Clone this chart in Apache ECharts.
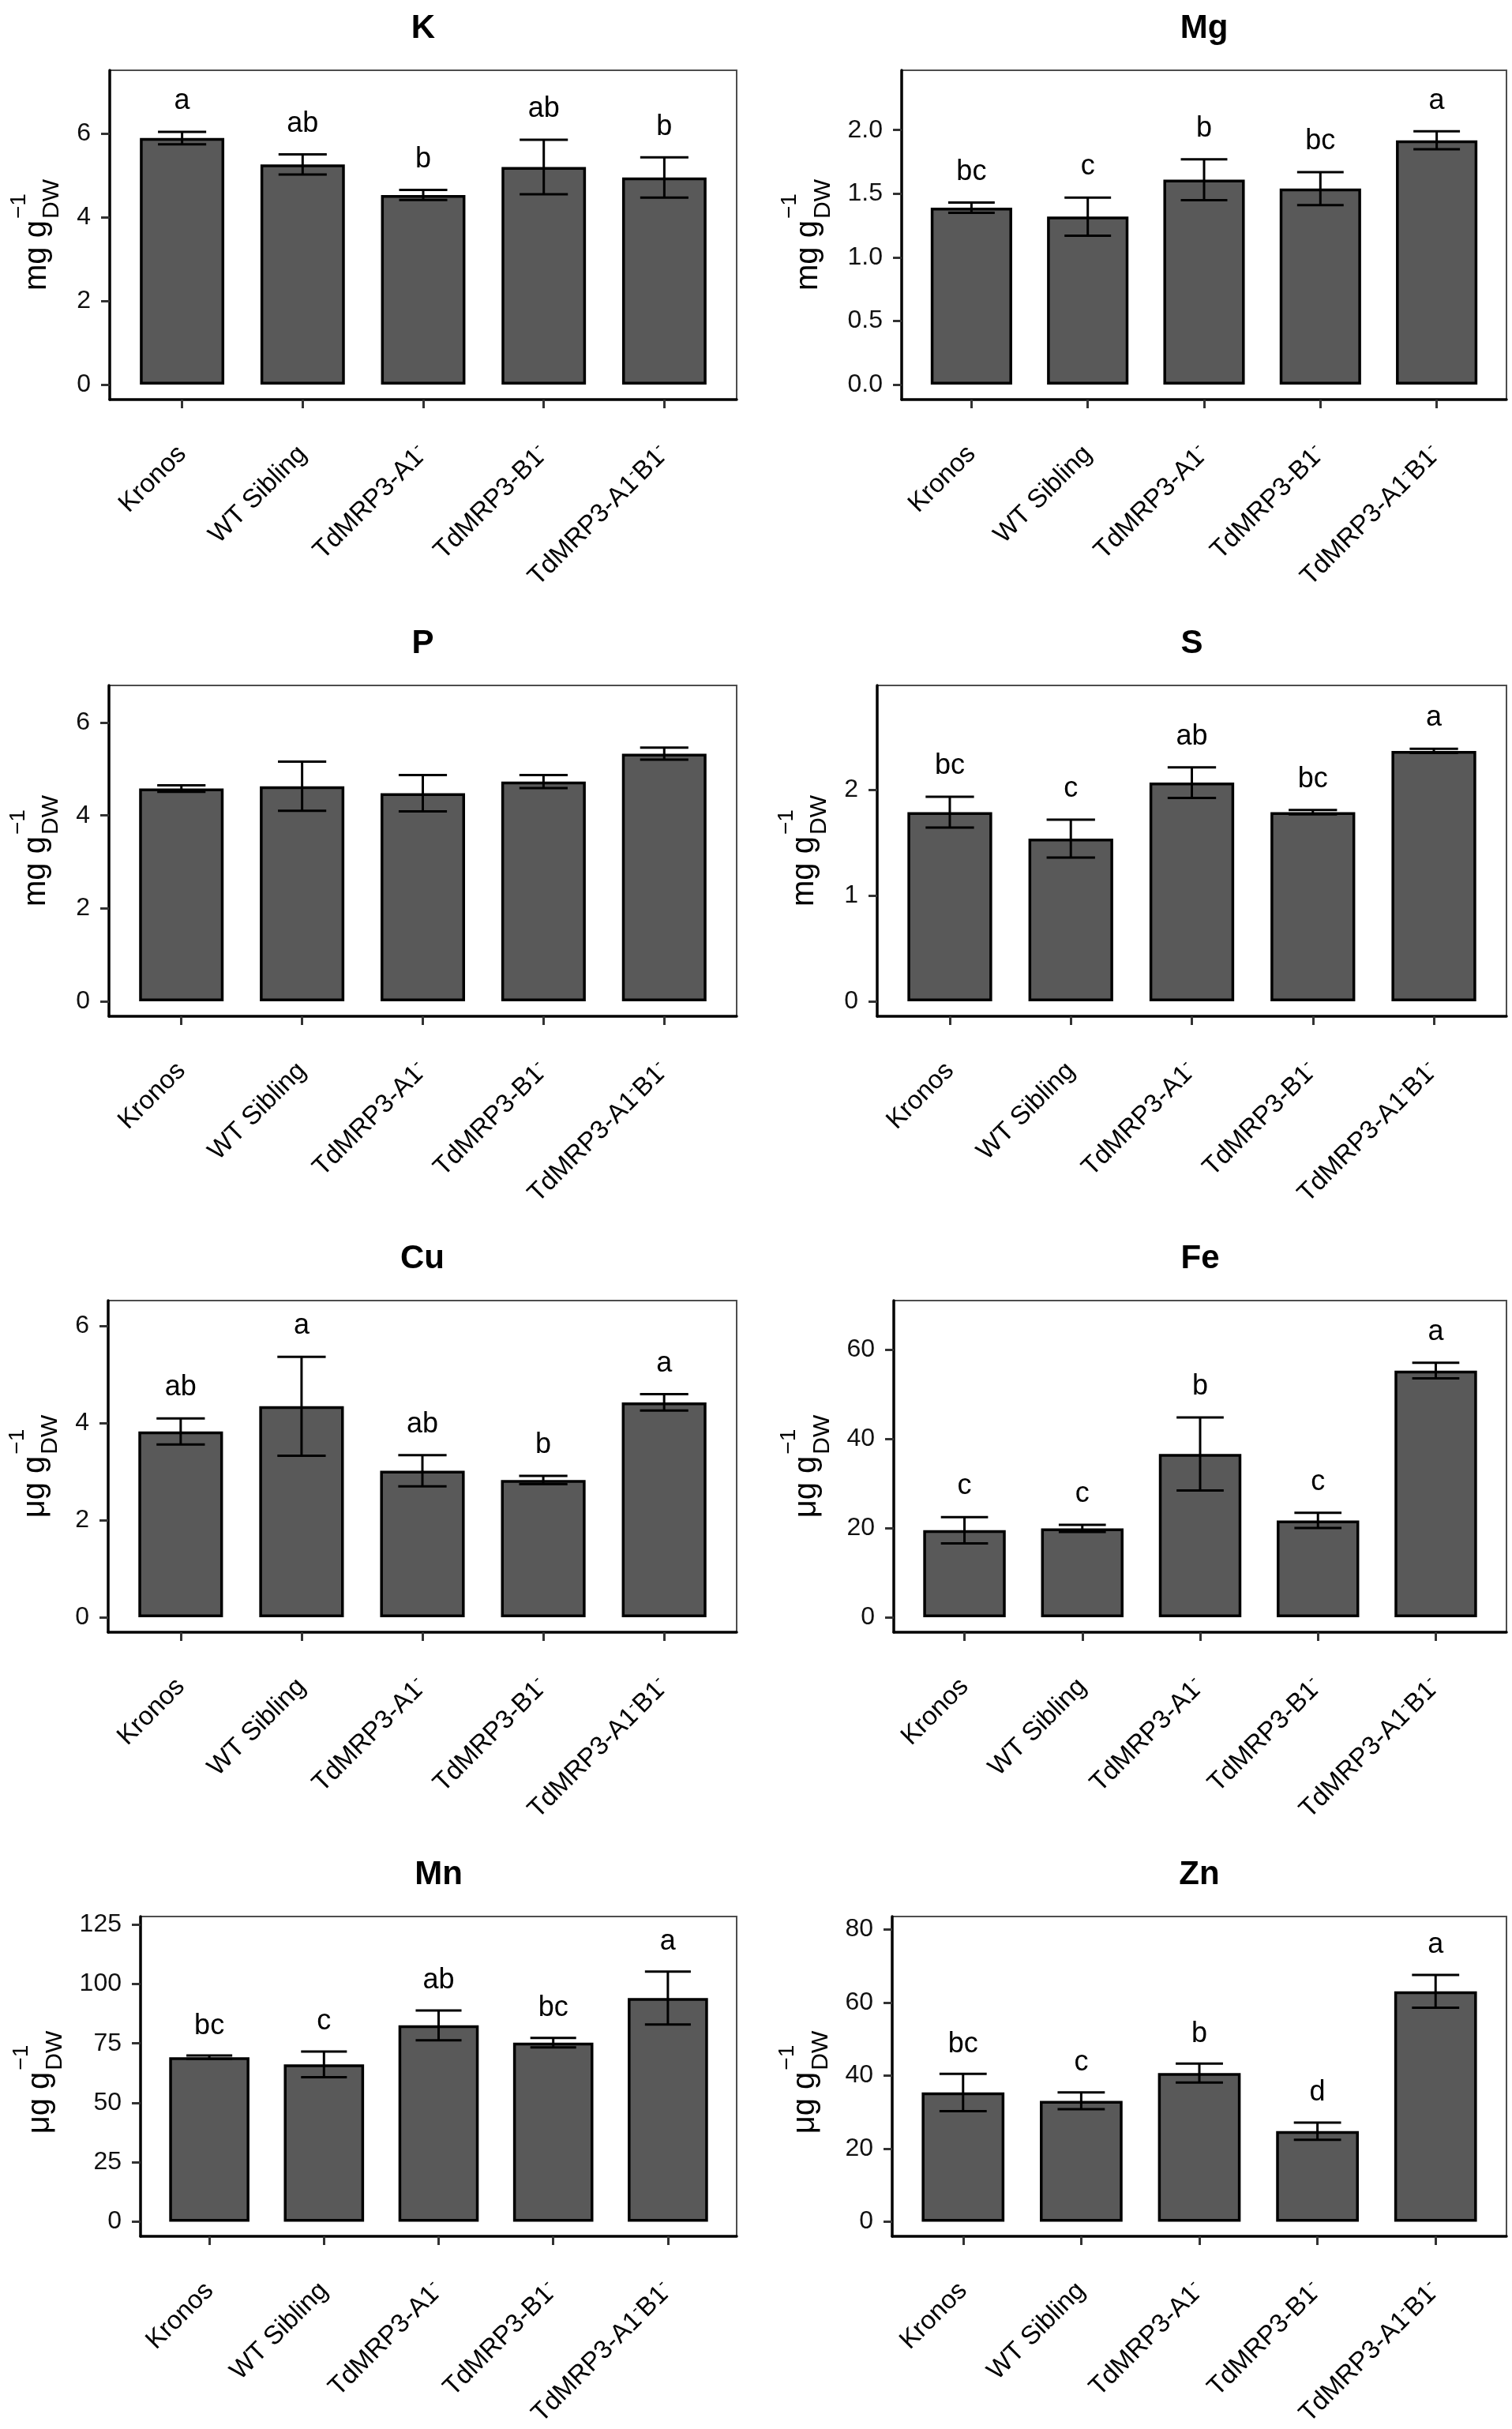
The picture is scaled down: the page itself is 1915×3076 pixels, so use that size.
<!DOCTYPE html>
<html>
<head>
<meta charset="utf-8">
<script src="https://cdn.jsdelivr.net/npm/echarts@6/dist/echarts.min.js"></script>
<style>
  html, body { margin: 0; padding: 0; background: #fff; }
  #chart { width: 1915px; height: 3076px; }
</style>
</head>
<body>
<div id="chart"></div>
<script>
// genotypes on the x axis, ⁻ marks a superscript minus
const categories = ['Kronos', 'WT Sibling', 'TdMRP3-A1⁻', 'TdMRP3-B1⁻', 'TdMRP3-A1⁻B1⁻'];

const elements = ['K', 'Mg', 'P', 'S', 'Cu', 'Fe', 'Mn', 'Zn'];
const units = ['mg', 'mg', 'mg', 'mg', 'μg', 'μg', 'μg', 'μg'];

// means, standard errors and letters of each element
const kMean = [5.89, 5.26, 4.53, 5.20, 4.95];
const kSe = [0.15, 0.24, 0.12, 0.65, 0.48];
const kLetters = ['a', 'ab', 'b', 'ab', 'b'];

const mgMean = [1.39, 1.32, 1.61, 1.54, 1.92];
const mgSe = [0.04, 0.15, 0.16, 0.13, 0.07];
const mgLetters = ['bc', 'c', 'b', 'bc', 'a'];

const pMean = [4.58, 4.63, 4.48, 4.73, 5.33];
const pSe = [0.07, 0.53, 0.39, 0.14, 0.13];
const pLetters = [];

const sMean = [1.79, 1.54, 2.07, 1.79, 2.37];
const sSe = [0.145, 0.18, 0.145, 0.02, 0.02];
const sLetters = ['bc', 'c', 'ab', 'bc', 'a'];

const cuMean = [3.83, 4.35, 3.02, 2.83, 4.43];
const cuSe = [0.27, 1.02, 0.32, 0.085, 0.17];
const cuLetters = ['ab', 'a', 'ab', 'b', 'a'];

const feMean = [19.5, 19.9, 36.6, 21.7, 55.3];
const feSe = [2.95, 0.8, 8.2, 1.7, 1.75];
const feLetters = ['c', 'c', 'b', 'c', 'a'];

const mnMean = [69.2, 66.2, 82.6, 75.3, 94.1];
const mnSe = [0.7, 5.4, 6.3, 2.0, 11.1];
const mnLetters = ['bc', 'c', 'ab', 'bc', 'a'];

const znMean = [35.4, 33.1, 40.7, 24.8, 63.1];
const znSe = [5.1, 2.3, 2.6, 2.35, 4.5];
const znLetters = ['bc', 'c', 'b', 'd', 'a'];

// y ticks and their labels
const kTicks = [0, 2, 4, 6];
const mgTicks = [0, 0.5, 1, 1.5, 2];
const mgTickLabels = ['0.0', '0.5', '1.0', '1.5', '2.0'];
const pTicks = [0, 2, 4, 6];
const sTicks = [0, 1, 2];
const cuTicks = [0, 2, 4, 6];
const feTicks = [0, 20, 40, 60];
const mnTicks = [0, 25, 50, 75, 100, 125];
const znTicks = [0, 20, 40, 60, 80];

// upper end of each y axis
const yTops = [7.51, 2.47, 6.80, 2.99, 6.53, 71.0, 128.4, 83.6];

const FONT = '"Liberation Sans", Arial, Helvetica, sans-serif';

const panels = [
  { mean: kMean, se: kSe, letters: kLetters, ticks: kTicks, tickLabels: kTicks.map(String) },
  { mean: mgMean, se: mgSe, letters: mgLetters, ticks: mgTicks, tickLabels: mgTickLabels },
  { mean: pMean, se: pSe, letters: pLetters, ticks: pTicks, tickLabels: pTicks.map(String) },
  { mean: sMean, se: sSe, letters: sLetters, ticks: sTicks, tickLabels: sTicks.map(String) },
  { mean: cuMean, se: cuSe, letters: cuLetters, ticks: cuTicks, tickLabels: cuTicks.map(String) },
  { mean: feMean, se: feSe, letters: feLetters, ticks: feTicks, tickLabels: feTicks.map(String) },
  { mean: mnMean, se: mnSe, letters: mnLetters, ticks: mnTicks, tickLabels: mnTicks.map(String) },
  { mean: znMean, se: znSe, letters: znLetters, ticks: znTicks, tickLabels: znTicks.map(String) }
];

// plot boxes in px
const boxes = [
  { left: 139, top: 89, width: 794, height: 417 },
  { left: 1142, top: 89, width: 766, height: 417 },
  { left: 138, top: 868, width: 795, height: 419 },
  { left: 1111, top: 868, width: 797, height: 419 },
  { left: 137, top: 1647, width: 796, height: 420 },
  { left: 1132, top: 1647, width: 776, height: 420 },
  { left: 178, top: 2427, width: 755, height: 420 },
  { left: 1130, top: 2427, width: 778, height: 420 }
];

const measure = document.createElement('canvas').getContext('2d');
function textWidth(text, size) {
  measure.font = size + 'px ' + FONT;
  return measure.measureText(text).width;
}

function catLabel(v) {
  const name = categories[v];
  if (name === undefined) return '';
  return name.split('⁻').map((part, k, arr) =>
    (part ? '{n|' + part + '}' : '') + (k < arr.length - 1 ? '{s|-}' : '')
  ).join('');
}

const grid = [], xAxis = [], yAxis = [], series = [], graphic = [];

panels.forEach((p, i) => {
  const b = boxes[i];
  const top = yTops[i];
  grid.push({
    left: b.left, top: b.top, width: b.width, height: b.height,
    show: true, borderColor: '#4d4d4d', borderWidth: 2
  });
  xAxis.push({
    gridIndex: i, type: 'value', min: -0.6, max: 4.6,
    splitLine: { show: false },
    axisLine: { show: true, onZero: false, lineStyle: { color: '#000', width: 3.5 } },
    axisTick: { show: true, customValues: [0, 1, 2, 3, 4], length: 11, lineStyle: { color: '#333', width: 3 } },
    axisLabel: {
      customValues: [0, 1, 2, 3, 4], rotate: 45, margin: 64,
      formatter: catLabel,
      fontSize: 33, fontFamily: FONT, color: '#000',
      rich: {
        n: { fontSize: 33, fontFamily: FONT, color: '#000', lineHeight: 38 },
        s: { fontSize: 20, fontFamily: FONT, color: '#000', verticalAlign: 'top', lineHeight: 38 }
      }
    }
  });
  yAxis.push({
    gridIndex: i, type: 'value', min: -top / 21, max: top,
    splitLine: { show: false },
    axisLine: { show: true, onZero: false, lineStyle: { color: '#000', width: 3.5 } },
    axisTick: { show: true, customValues: p.ticks, length: 11, lineStyle: { color: '#333', width: 3 } },
    axisLabel: {
      customValues: p.ticks, margin: 24,
      formatter: v => p.tickLabels[p.ticks.indexOf(v)],
      fontSize: 32, fontFamily: FONT, color: '#111'
    }
  });

  series.push({
    type: 'bar', xAxisIndex: i, yAxisIndex: i,
    data: p.mean.map((m, j) => [j, m]),
    barWidth: 0.7 * b.width / 5.2,
    itemStyle: { color: '#595959', borderColor: '#000', borderWidth: 3.5 },
    silent: true
  });

  series.push({
    type: 'custom', xAxisIndex: i, yAxisIndex: i,
    data: p.mean.map((m, j) => [j, m - p.se[j], m + p.se[j]]),
    encode: { x: 0, y: [1, 2] },
    z: 5, silent: true,
    renderItem: (params, api) => {
      const x = api.value(0);
      const lo = api.coord([x, api.value(1)]);
      const hi = api.coord([x, api.value(2)]);
      const half = api.size([0.2, 0])[0];
      const st = { stroke: '#000', lineWidth: 3 };
      return {
        type: 'group',
        children: [
          { type: 'line', shape: { x1: lo[0], y1: lo[1], x2: hi[0], y2: hi[1] }, style: st },
          { type: 'line', shape: { x1: hi[0] - half, y1: hi[1], x2: hi[0] + half, y2: hi[1] }, style: st },
          { type: 'line', shape: { x1: lo[0] - half, y1: lo[1], x2: lo[0] + half, y2: lo[1] }, style: st }
        ]
      };
    }
  });

  if (p.letters.length) {
    series.push({
      type: 'custom', xAxisIndex: i, yAxisIndex: i,
      data: p.letters.map((l, j) => [j, p.mean[j] + p.se[j] + 0.097 * top]),
      encode: { x: 0, y: 1 },
      z: 6, silent: true,
      renderItem: (params, api) => {
        const pt = api.coord([api.value(0), api.value(1)]);
        return {
          type: 'text', x: pt[0], y: pt[1],
          style: {
            text: p.letters[params.dataIndex], fill: '#000',
            fontSize: 36, fontFamily: FONT, align: 'center', verticalAlign: 'middle'
          }
        };
      }
    });
  }

  // panel title
  graphic.push({
    type: 'text', x: b.left + b.width / 2, y: b.top - 53,
    style: {
      text: elements[i], fill: '#000', fontSize: 42, fontWeight: 'bold',
      fontFamily: FONT, align: 'center', verticalAlign: 'middle'
    }
  });

  // y axis title: unit g with DW subscript and -1 superscript
  const labelW = Math.max(...p.tickLabels.map(t => textWidth(t, 32)));
  const labelLeft = b.left - 24 - labelW;
  const main = units[i] + ' g';
  const wMain = textWidth(main, 40);
  const wSub = textWidth('DW', 30);
  const wSup = textWidth('−1', 28);
  const W = wMain + 2 + Math.max(wSub, wSup);
  graphic.push({
    type: 'group', x: labelLeft - 50, y: b.top + b.height / 2, rotation: Math.PI / 2,
    children: [
      { type: 'text', x: -W / 2, y: 0,
        style: { text: main, fill: '#000', fontSize: 40, fontFamily: FONT, align: 'left', verticalAlign: 'middle' } },
      { type: 'text', x: -W / 2 + wMain + 2, y: 19,
        style: { text: 'DW', fill: '#000', fontSize: 30, fontFamily: FONT, align: 'left', verticalAlign: 'middle' } },
      { type: 'text', x: -W / 2 + wMain + 2, y: -23,
        style: { text: '−1', fill: '#000', fontSize: 28, fontFamily: FONT, align: 'left', verticalAlign: 'middle' } }
    ]
  });
});

const myChart = echarts.init(document.getElementById('chart'));
myChart.setOption({
  backgroundColor: '#fff',
  animation: false,
  grid: grid,
  xAxis: xAxis,
  yAxis: yAxis,
  series: series,
  graphic: graphic
});
</script>
</body>
</html>
